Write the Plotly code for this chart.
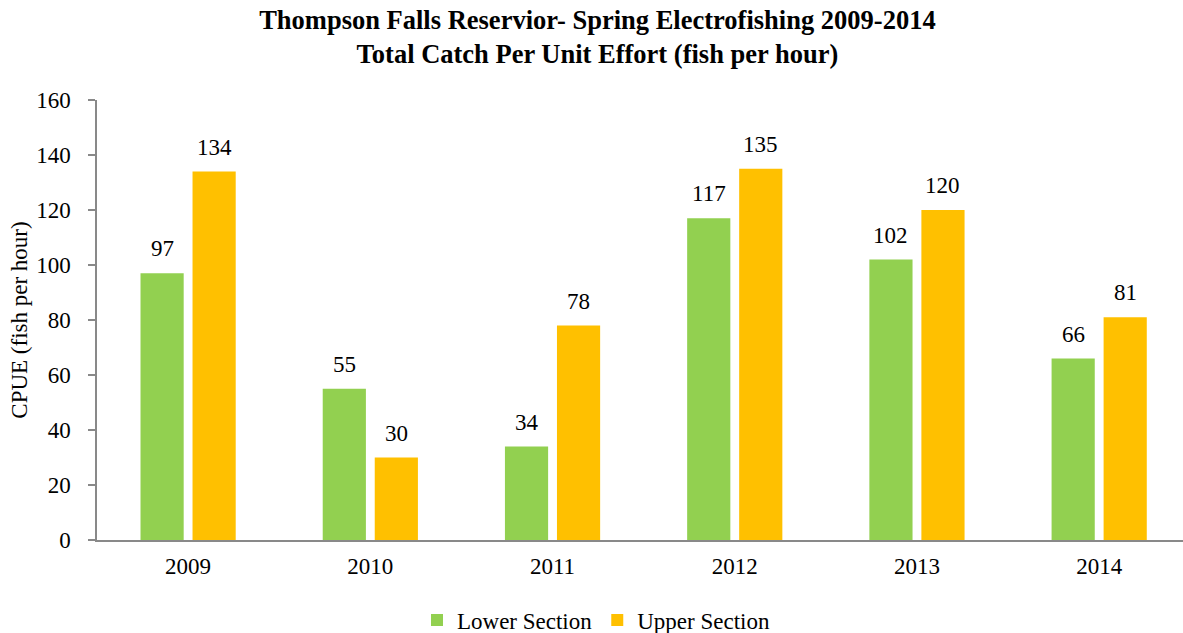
import plotly.graph_objects as go

years = ["2009", "2010", "2011", "2012", "2013", "2014"]
lower = [97, 55, 34, 117, 102, 66]
upper = [134, 30, 78, 135, 120, 81]
series_names = ["Lower Section", "Upper Section"]
colors = ["#92D050", "#FFC000"]

FONT = "Liberation Serif, Times New Roman, serif"

fig = go.Figure()
fig.add_trace(go.Bar(x=years, y=lower, name=series_names[0], marker=dict(color=colors[0], line=dict(width=0))))
fig.add_trace(go.Bar(x=years, y=upper, name=series_names[1], marker=dict(color=colors[1], line=dict(width=0))))

annotations = []
for vals, shift in ((lower, -26), (upper, 26)):
    for i, v in enumerate(vals):
        annotations.append(dict(x=i, y=v, xref="x", yref="y", text=str(v), showarrow=False,
                                xshift=shift, yshift=10, yanchor="bottom", xanchor="center",
                                font=dict(family=FONT, size=23, color="#000000")))

fig.update_layout(
    width=1183, height=633,
    margin=dict(l=97, r=0, t=100, b=93, autoexpand=False),
    paper_bgcolor="white", plot_bgcolor="white",
    barmode="group", bargap=0.429, bargroupgap=0.17,
    font=dict(family=FONT, size=23, color="#000000"),
    title=dict(text="<b>Thompson Falls Reservior- Spring Electrofishing 2009-2014<br>Total Catch Per Unit Effort (fish per hour)</b>",
               x=0.505, xref="container", xanchor="center", y=0.9546, yref="container", yanchor="top",
               font=dict(family=FONT, size=26.5, color="#000000")),
    showlegend=True,
    legend=dict(orientation="h", x=0.5038, xref="container", xanchor="center", y=0.0205, yref="container", yanchor="middle",
                font=dict(family=FONT, size=23, color="#000000"), itemclick=False),
    annotations=annotations,
)
fig.update_xaxes(type="category", range=[-0.5, 5.46], showline=True, linecolor="#898989", linewidth=1.5,
                 ticks="", showgrid=False, ticklabelstandoff=5, tickfont=dict(family=FONT, size=23))
fig.update_yaxes(range=[0, 160], dtick=20, showline=True, linecolor="#898989", linewidth=1.5,
                 ticks="outside", ticklen=7, tickcolor="#898989", tickwidth=1.5, showgrid=False, zeroline=False,
                 ticklabelstandoff=13, tickfont=dict(family=FONT, size=23),
                 title=dict(text="CPUE (fish per hour)", standoff=2, font=dict(family=FONT, size=23)))

fig.write_html("out.html", config={"displayModeBar": False},
               post_script="document.body.style.margin='0';document.body.style.overflow='hidden';")
